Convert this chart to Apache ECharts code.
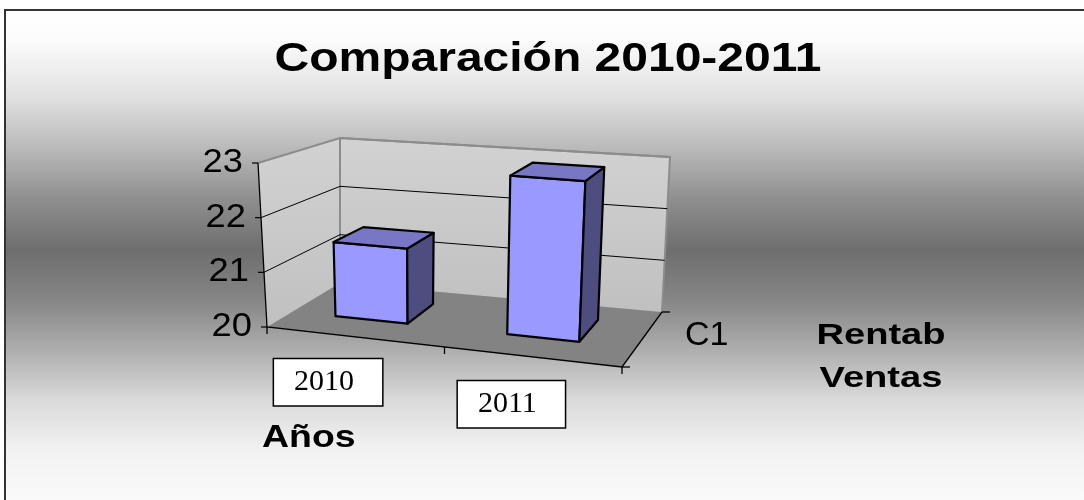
<!DOCTYPE html>
<html>
<head>
<meta charset="utf-8">
<title>Comparación 2010-2011</title>
<script src="https://cdn.jsdelivr.net/npm/echarts@6/dist/echarts.min.js"></script>
<style>
html, body { margin: 0; padding: 0; background: #fff; }
#chart { width: 1084px; height: 500px; }
</style>
</head>
<body>
<div id="chart"></div>
<script>
// datos del gráfico
const categorias = ['2010', '2011'];
const rentabVentas = [21.4, 22.9];
const ticksY = [20, 21, 22, 23];
const serieNombre = 'C1';

const SANS = '"Liberation Sans", Arial, sans-serif';
const SERIF = '"Liberation Serif", "Times New Roman", serif';

// caja 3D: plano frontal (d=0) y trasero (d=1), esquinas en px
const FRENTE = { lb: [267, 327], rb: [622, 367], lt: [258, 163], rt: [631, 192] };
const FONDO = { lb: [340, 283], rb: [662, 312], lt: [340, 138], rt: [670, 157] };
const PROF_BARRA = [0.35, 0.76];

function lerp(p, q, t) {
  return [p[0] + (q[0] - p[0]) * t, p[1] + (q[1] - p[1]) * t];
}
function plano(pl, a, b) {
  return lerp(lerp(pl.lb, pl.rb, a), lerp(pl.lt, pl.rt, a), b);
}
function P(a, b, d) {
  return lerp(plano(FRENTE, a, b), plano(FONDO, a, b), d);
}
// px del grid (sin proyectar) -> [a, b] entre 0 y 1
function normalizar(params, pt) {
  const cs = params.coordSys;
  return [(pt[0] - cs.x) / cs.width, (cs.y + cs.height - pt[1]) / cs.height];
}
function texto(x, y, txt, font, align, vAlign, scaleX, extra) {
  return {
    type: 'text', x: x, y: y, scaleX: scaleX || 1,
    style: Object.assign({
      text: txt, font: font, fill: '#000',
      align: align, textAlign: align,
      verticalAlign: vAlign, textVerticalAlign: vAlign
    }, extra || {})
  };
}

const rellenoPared = {
  type: 'linear', x: 0, y: 0, x2: 0, y2: 1,
  colorStops: [{ offset: 0, color: '#D2D2D2' }, { offset: 1, color: '#C0C0C0' }]
};
const bordePared = { stroke: '#8C8C8C', lineWidth: 2, fill: null };

function renderParedes(params, api) {
  return {
    type: 'group',
    children: [
      { type: 'polygon', shape: { points: [P(0, 0, 0), P(1, 0, 0), P(1, 0, 1), P(0, 0, 1)] }, style: { fill: '#838383' } },
      { type: 'polygon', shape: { points: [P(0, 0, 0), P(0, 1, 0), P(0, 1, 1), P(0, 0, 1)] }, style: { fill: rellenoPared } },
      { type: 'polygon', shape: { points: [P(0, 0, 1), P(1, 0, 1), P(1, 1, 1), P(0, 1, 1)] }, style: { fill: rellenoPared } },
      { type: 'polyline', shape: { points: [P(0, 0, 1), P(0, 1, 1), P(1, 1, 1), P(1, 0, 1)] }, style: bordePared }
    ]
  };
}

function renderRejilla(params, api) {
  const v = api.value(0);
  const b = normalizar(params, api.coord([0, v]))[1];
  const f = P(0, b, 0);
  const children = [];
  if (b > 0.001) {
    const esBorde = b > 0.999;
    children.push({
      type: 'polyline',
      shape: { points: [f, P(0, b, 1), P(1, b, 1)] },
      style: esBorde ? bordePared : { stroke: '#000', lineWidth: 1, fill: null }
    });
  }
  children.push({ type: 'line', shape: { x1: f[0] - 6, y1: f[1], x2: f[0], y2: f[1] }, style: { stroke: '#000', lineWidth: 1.2 } });
  children.push(texto(f[0] - 15, f[1], String(v), '33px ' + SANS, 'right', 'middle', 1.1));
  return { type: 'group', children: children };
}

function renderBarras(params, api) {
  const idx = api.value(0);
  const val = api.value(1);
  const n = normalizar(params, api.coord([idx, val]));
  const banda = api.size([1, 0])[0] / params.coordSys.width;
  const ac = n[0] - 0.04 * banda;
  const a0 = ac - 0.21 * banda;
  const a1 = ac + 0.21 * banda;
  const bv = n[1];
  const d0 = PROF_BARRA[0], d1 = PROF_BARRA[1];
  const borde = { stroke: '#000', lineWidth: 2.2, lineJoin: 'round' };
  return {
    type: 'group',
    children: [
      { type: 'polygon', shape: { points: [P(a0, 0, d0), P(a1, 0, d0), P(a1, bv, d0), P(a0, bv, d0)] }, style: Object.assign({ fill: '#9999FF' }, borde) },
      { type: 'polygon', shape: { points: [P(a1, 0, d0), P(a1, 0, d1), P(a1, bv, d1), P(a1, bv, d0)] }, style: Object.assign({ fill: '#4D4D80' }, borde) },
      { type: 'polygon', shape: { points: [P(a0, bv, d0), P(a1, bv, d0), P(a1, bv, d1), P(a0, bv, d1)] }, style: Object.assign({ fill: '#7777C6' }, borde) }
    ]
  };
}

function renderFrente(params, api) {
  const negro = { stroke: '#000', lineWidth: 1.3, fill: null };
  const children = [
    { type: 'polyline', shape: { points: [P(0, 1, 0), P(0, 0, 0), P(1, 0, 0), P(1, 0, 1)] }, style: negro }
  ];
  // marcas entre categorias
  for (let i = 0; i <= categorias.length; i++) {
    const p = P(i / categorias.length, 0, 0);
    children.push({ type: 'line', shape: { x1: p[0], y1: p[1], x2: p[0], y2: p[1] + 7 }, style: negro });
  }
  // eje de series
  [0, 1].forEach(function (d) {
    const p = P(1, 0, d);
    children.push({ type: 'line', shape: { x1: p[0], y1: p[1], x2: p[0] + 8, y2: p[1] }, style: negro });
  });
  const m = P(1, 0, 0.5);
  children.push(texto(m[0] + 43, m[1] - 4, serieNombre, '34px ' + SANS, 'left', 'middle', 1));
  return { type: 'group', children: children };
}

function renderCategorias(params, api) {
  const idx = api.value(0);
  const a = normalizar(params, api.coord([idx, 20]))[0];
  const p = P(a, 0, -0.35);
  return texto(p[0] - 5, p[1] + 29, categorias[idx], '30px ' + SERIF, 'center', 'middle', 1, {
    lineHeight: 30,
    backgroundColor: '#fff',
    borderColor: '#000',
    borderWidth: 1.5,
    padding: [12, 28, 4, 20]
  });
}

const chart = echarts.init(document.getElementById('chart'));
chart.setOption({
  animation: false,
  grid: { left: 100, right: 100, top: 100, bottom: 100 },
  xAxis: { type: 'category', data: categorias, show: false },
  yAxis: { type: 'value', min: 20, max: 23, interval: 1, show: false },
  graphic: [
    {
      type: 'rect', z: -100,
      shape: { x: 5, y: 10, width: 1200, height: 540 },
      style: {
        stroke: '#333', lineWidth: 2,
        fill: {
          type: 'linear', x: 0, y: 10, x2: 0, y2: 500, global: true,
          colorStops: [
            { offset: 0, color: '#FFFFFF' },
            { offset: 0.06, color: '#FCFCFC' },
            { offset: 0.18, color: '#E0E0E0' },
            { offset: 0.286, color: '#B8B8B8' },
            { offset: 0.388, color: '#8E8E8E' },
            { offset: 0.49, color: '#6E6E6E' },
            { offset: 0.592, color: '#868686' },
            { offset: 0.694, color: '#AEAEAE' },
            { offset: 0.796, color: '#DADADA' },
            { offset: 0.898, color: '#F2F2F2' },
            { offset: 1, color: '#FAFAFA' }
          ]
        }
      }
    },
    texto(548, 60, 'Comparación 2010-2011', 'bold 40px ' + SANS, 'center', 'middle', 1.2),
    texto(262, 438, 'Años', 'bold 32px ' + SANS, 'left', 'middle', 1.17),
    texto(881, 357, 'Rentab\nVentas', 'bold 30px ' + SANS, 'center', 'middle', 1.27, { lineHeight: 43 })
  ],
  series: [
    { type: 'custom', name: 'paredes', z: 1, silent: true, data: [[0]], renderItem: renderParedes },
    { type: 'custom', name: 'rejilla', z: 2, silent: true, data: ticksY.map(function (v) { return [v]; }), renderItem: renderRejilla },
    { type: 'custom', name: serieNombre, z: 3, data: categorias.map(function (c, i) { return [i, rentabVentas[i]]; }), renderItem: renderBarras },
    { type: 'custom', name: 'frente', z: 4, silent: true, data: [[0]], renderItem: renderFrente },
    { type: 'custom', name: 'categorias', z: 4, silent: true, data: categorias.map(function (c, i) { return [i]; }), renderItem: renderCategorias }
  ]
});
</script>
</body>
</html>
